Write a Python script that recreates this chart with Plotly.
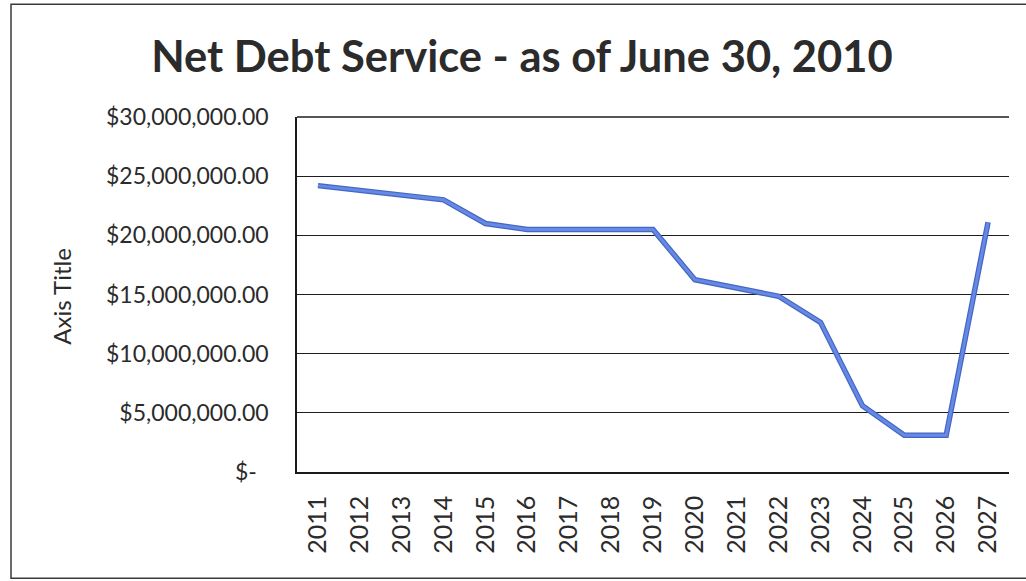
import plotly.graph_objects as go

years = [str(y) for y in range(2011, 2028)]
net_debt_service = [
    24.2e6, 23.8e6, 23.4e6, 23.0e6, 21.0e6, 20.5e6, 20.5e6, 20.5e6, 20.5e6,
    16.25e6, 15.55e6, 14.85e6, 12.65e6, 5.6e6, 3.1e6, 3.1e6, 21.1e6,
]
y_tick_values = [0, 5e6, 10e6, 15e6, 20e6, 25e6, 30e6]
y_tick_labels = [
    "$-\u00a0\u00a0", "$5,000,000.00", "$10,000,000.00", "$15,000,000.00",
    "$20,000,000.00", "$25,000,000.00", "$30,000,000.00",
]

W, H = 1026, 581
L, R, T, B = 297, 1009, 117, 472.5
pw, ph = R - L, B - T

def px(x):
    return (x - L) / pw

def py(y):
    return (B - y) / ph

fig = go.Figure()
# darker edge underneath, lighter core on top
fig.add_trace(go.Scatter(
    x=years, y=net_debt_service, mode="lines",
    line=dict(color="#4466c4", width=5.5),
    showlegend=False, hoverinfo="skip",
))
fig.add_trace(go.Scatter(
    x=years, y=net_debt_service, mode="lines",
    line=dict(color="#6689e4", width=3),
    showlegend=False, hoverinfo="skip",
))

font_family = "Lato, 'Open Sans', sans-serif"
text_color = "#2b2b2b"
grid_color = "#1e1e1e"

fig.update_layout(
    width=W, height=H,
    margin=dict(l=L, r=W - R, t=T, b=H - B),
    paper_bgcolor="white", plot_bgcolor="white",
    title=dict(
        text="<b>Net Debt Service - as of June 30, 2010</b>",
        x=522 / W, y=1 - 57 / H, xanchor="center", yanchor="middle",
        font=dict(family=font_family, size=43.5, color=text_color),
    ),
    xaxis=dict(
        type="category", range=[-0.5, len(years) - 0.5],
        showgrid=False, zeroline=False,
        showline=True, linecolor="#1a1a1a", linewidth=1.5,
        tickangle=-90, ticks="", ticklabelstandoff=12,
        tickfont=dict(family=font_family, size=25, color=text_color),
    ),
    yaxis=dict(
        range=[0, 30e6], tickvals=y_tick_values, ticktext=y_tick_labels,
        showgrid=True, gridcolor=grid_color, gridwidth=1.3,
        zeroline=False, showline=True, linecolor="#1a1a1a", linewidth=1.5,
        ticks="", ticklabelstandoff=22,
        tickfont=dict(family=font_family, size=23, color=text_color),
    ),
    annotations=[dict(
        text="Axis Title", textangle=-90,
        xref="paper", yref="paper", x=px(62), y=py(297),
        xanchor="center", yanchor="middle", showarrow=False,
        font=dict(family=font_family, size=24, color=text_color),
    )],
    shapes=[
        # outer chart frame
        dict(
            type="rect", xref="paper", yref="paper",
            x0=px(11), x1=px(1032), y0=py(579), y1=py(4),
            line=dict(color="#3a3a3a", width=1.5), layer="below",
        ),
        # top edge of the plot area (gridline at the axis maximum)
        dict(
            type="line", xref="paper", yref="paper",
            x0=0, x1=1, y0=1, y1=1,
            line=dict(color=grid_color, width=1.3), layer="below",
        ),
    ],
)

fig.write_html("out.html")
